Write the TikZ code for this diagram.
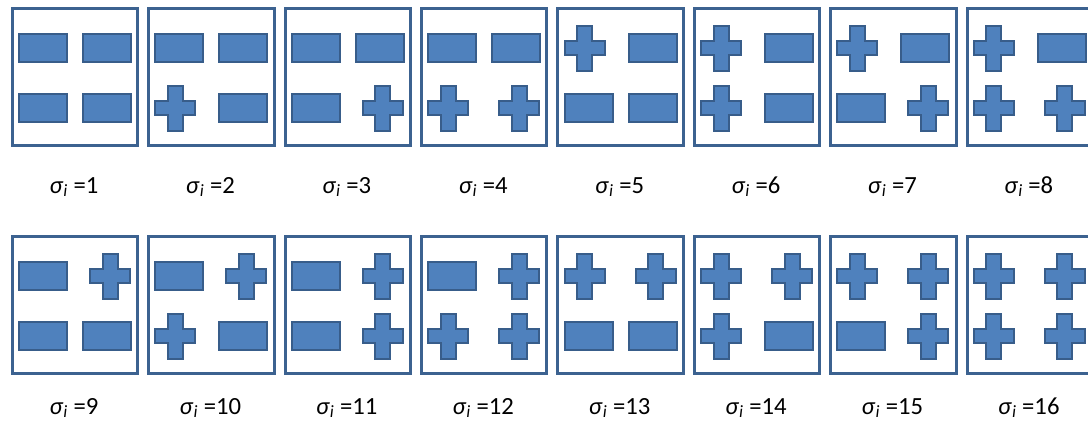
\documentclass[tikz,border=0pt]{standalone}
\usepackage{fontspec}
\setmainfont{Carlito}
\usepackage{tikz}
\usetikzlibrary{calc}
\definecolor{cellblue}{HTML}{4F81BD}
\definecolor{celledge}{HTML}{385D8A}
\definecolor{frameblue}{HTML}{3C6290}
\newcommand\sigi{\textit{σ}\textsubscript{\textit{i}}}
\tikzset{
  cellbox/.style={draw=frameblue,line width=2.2pt,inner sep=0pt,
    minimum width=94pt,minimum height=102.5pt},
  minusbox/.style={draw=celledge,fill=cellblue,line width=1.5pt,inner sep=0pt,
    minimum width=36pt,minimum height=21pt},
  pluscell/.pic={
    \draw[celledge,fill=cellblue,line width=1.5pt]
      (-7.5,-22.5) -- (7.5,-22.5) -- (7.5,-7) -- (20,-7) -- (20,7) -- (7.5,7)
      -- (7.5,22.5) -- (-7.5,22.5) -- (-7.5,7) -- (-20,7) -- (-20,-7) -- (-7.5,-7) -- cycle;
  },
  lbl/.style={anchor=base,font=\fontsize{18.5}{22}\selectfont,inner sep=0pt}
}

\begin{document}
\begin{tikzpicture}[x=0.75pt,y=-0.75pt]
  \useasboundingbox (0,0) rectangle (1088,430);
  \foreach \n in {1,...,16}{
    \pgfmathtruncatemacro\c{mod(\n-1,8)}
    \pgfmathtruncatemacro\r{(\n-1)/8}
    \pgfmathtruncatemacro\bl{mod(\n-1,2)}
    \pgfmathtruncatemacro\br{mod(floor((\n-1)/2),2)}
    \pgfmathtruncatemacro\tl{mod(floor((\n-1)/4),2)}
    \pgfmathtruncatemacro\tr{floor((\n-1)/8)}
    \node[cellbox] (box\n) at ({75+136.4*\c},{77+228*\r}) {};
    \ifnum\tl=1 \pic at ([shift={(-36,-29)}]box\n.center) {pluscell};
    \else \node[minusbox] (tl\n) at ([shift={(-32,-29)}]box\n.center) {}; \fi
    \ifnum\tr=1 \pic at ([shift={(35,-29)}]box\n.center) {pluscell};
    \else \node[minusbox] (tr\n) at ([shift={(32,-29)}]box\n.center) {}; \fi
    \ifnum\bl=1 \pic at ([shift={(-36,31)}]box\n.center) {pluscell};
    \else \node[minusbox] (bl\n) at ([shift={(-32,31)}]box\n.center) {}; \fi
    \ifnum\br=1 \pic at ([shift={(35,31)}]box\n.center) {pluscell};
    \else \node[minusbox] (br\n) at ([shift={(32,31)}]box\n.center) {}; \fi
    \node[lbl] (lab\n) at ({74+136.4*\c},{193+221*\r}) {\sigi\ =\n};
  }
\end{tikzpicture}
\end{document}
